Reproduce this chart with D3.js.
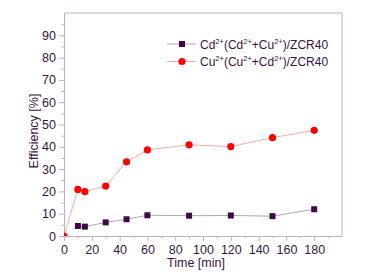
<!DOCTYPE html>
<html>
<head>
<meta charset="utf-8">
<script src="https://cdn.jsdelivr.net/npm/d3@7"></script>
<style>
  body { margin: 0; background: #fff; }
  svg text { font-family: "Liberation Sans", Arial, sans-serif; fill: #3a1446; }
</style>
</head>
<body>
<svg id="chart"></svg>
<script>
// time points [min]
const timeCd = [10, 15, 30, 45, 60, 90, 120, 150, 180]
const effCd = [4.5, 4.2, 6.1, 7.5, 9.3, 9.1, 9.2, 8.9, 12.0]
const timeCu = [0, 10, 15, 30, 45, 60, 90, 120, 150, 180]
const effCu = [0, 20.9, 19.9, 22.4, 33.3, 38.6, 40.9, 40.1, 44.1, 47.4]
const xTicks = [0, 20, 40, 60, 80, 100, 120, 140, 160, 180]
const yTicks = [0, 10, 20, 30, 40, 50, 60, 70, 80, 90]

const frameColor = '#c3adc8'
const cdColor = '#3d0a45', cdLine = '#b8a2bd'
const cuColor = '#ff0000', cuLine = '#ffaaaa'

let width = 365,
    height = 279
let margin = {left: 64, top: 13, right: 23, bottom: 43}

let $svg = d3.select('#chart')
    .attr('width', width)
    .attr('height', height)

let scaleX = d3.scaleLinear().domain([0, 200]).range([margin.left, width - margin.right])
let scaleY = d3.scaleLinear().domain([0, 100]).range([height - margin.bottom, margin.top])

$svg.append('defs').append('clipPath').attr('id', 'plot-clip')
    .append('rect')
    .attr('x', scaleX(0)).attr('y', scaleY(100))
    .attr('width', scaleX(200) - scaleX(0))
    .attr('height', scaleY(0) - scaleY(100))

// minor ticks
let xMinor = d3.range(10, 200, 20)
let yMinor = d3.range(5, 100, 10)

$svg.append('g')
    .attr('transform', 'translate(0,' + scaleY(0) + ')')
    .call(d3.axisBottom(scaleX).tickValues(xTicks).tickSize(5).tickPadding(4).tickSizeOuter(0))
$svg.append('g')
    .attr('transform', 'translate(0,' + scaleY(0) + ')')
    .call(d3.axisBottom(scaleX).tickValues(xMinor).tickSize(2.5).tickFormat('').tickSizeOuter(0))
$svg.append('g')
    .attr('transform', 'translate(' + scaleX(0) + ',0)')
    .call(d3.axisLeft(scaleY).tickValues(yTicks).tickSize(5).tickPadding(3).tickSizeOuter(0))
$svg.append('g')
    .attr('transform', 'translate(' + scaleX(0) + ',0)')
    .call(d3.axisLeft(scaleY).tickValues(yMinor).tickSize(2.5).tickFormat('').tickSizeOuter(0))

$svg.selectAll('.domain').attr('stroke', frameColor)
$svg.selectAll('.tick line').attr('stroke', frameColor)
$svg.selectAll('.tick text')
    .attr('font-size', 12.5)
    .attr('font-family', '"Liberation Sans", Arial, sans-serif')
    .attr('fill', '#3a1446')

// frame top & right
$svg.append('path')
    .attr('d', 'M' + scaleX(0) + ',' + scaleY(100) + 'H' + scaleX(200) + 'V' + scaleY(0))
    .attr('fill', 'none')
    .attr('stroke', frameColor)

let lineFunction = d3.line()
    .x(d => scaleX(d[0]))
    .y(d => scaleY(d[1]))

let cdData = d3.zip(timeCd, effCd)
let cuData = d3.zip(timeCu, effCu)

let $plot = $svg.append('g').attr('clip-path', 'url(#plot-clip)')

$plot.append('path')
    .attr('d', lineFunction(cdData))
    .attr('stroke', cdLine).attr('fill', 'none').attr('stroke-width', 1)
$plot.append('path')
    .attr('d', lineFunction(cuData))
    .attr('stroke', cuLine).attr('fill', 'none').attr('stroke-width', 1)

let sq = 6
$plot.selectAll('rect.cd').data(cdData).enter().append('rect')
    .attr('class', 'cd')
    .attr('x', d => scaleX(d[0]) - sq / 2)
    .attr('y', d => scaleY(d[1]) - sq / 2)
    .attr('width', sq).attr('height', sq)
    .attr('fill', cdColor)
$plot.selectAll('circle.cu').data(cuData).enter().append('circle')
    .attr('class', 'cu')
    .attr('cx', d => scaleX(d[0]))
    .attr('cy', d => scaleY(d[1]))
    .attr('r', 3.6)
    .attr('fill', cuColor)

// axis titles
$svg.append('text')
    .attr('x', 196).attr('y', 267)
    .attr('text-anchor', 'middle')
    .attr('font-size', 12.5)
    .text('Time [min]')
$svg.append('text')
    .attr('transform', 'translate(38,' + 131 + ') rotate(-90)')
    .attr('text-anchor', 'middle')
    .attr('font-size', 12.5)
    .text('Efficiency [%]')

// legend
let legend = [
    {base: 'Cd', other: 'Cu', line: cdLine, color: cdColor, shape: 'square'},
    {base: 'Cu', other: 'Cd', line: cuLine, color: cuColor, shape: 'circle'}
]
legend.forEach((l, i) => {
    let y = 44 + i * 17.5
    let $g = $svg.append('g')
    $g.append('line')
        .attr('x1', 167).attr('x2', 196).attr('y1', y).attr('y2', y)
        .attr('stroke', l.line)
    if (l.shape === 'square') {
        $g.append('rect').attr('x', 182 - sq / 2).attr('y', y - sq / 2)
            .attr('width', sq).attr('height', sq).attr('fill', l.color)
    } else {
        $g.append('circle').attr('cx', 182).attr('cy', y).attr('r', 3.6).attr('fill', l.color)
    }
    let $t = $g.append('text').attr('x', 200).attr('y', y + 4.5).attr('font-size', 12)
    $t.append('tspan').text(l.base)
    $t.append('tspan').attr('font-size', 7.5).attr('dy', -5).text('2+')
    $t.append('tspan').attr('dy', 5).text('(' + l.base)
    $t.append('tspan').attr('font-size', 7.5).attr('dy', -5).text('2+')
    $t.append('tspan').attr('dy', 5).text('+' + l.other)
    $t.append('tspan').attr('font-size', 7.5).attr('dy', -5).text('2+')
    $t.append('tspan').attr('dy', 5).text(')/ZCR40')
})
</script>
</body>
</html>
